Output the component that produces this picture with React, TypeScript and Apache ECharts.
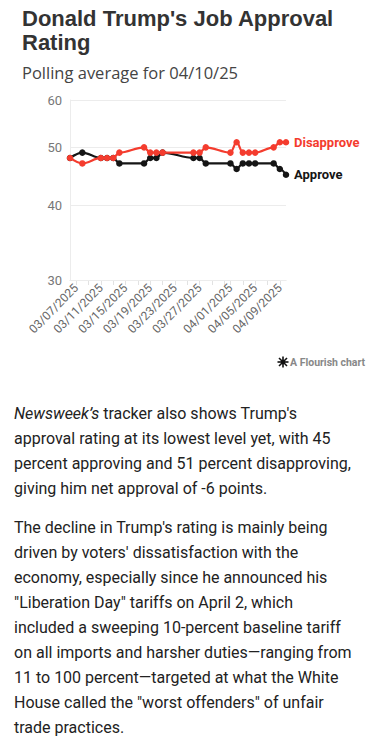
import React, { useEffect, useRef } from "react";
import * as echarts from "echarts";

const dates = ["03/06", "03/08", "03/11", "03/12", "03/13", "03/14", "03/18", "03/19", "03/20", "03/21", "03/26", "03/27", "03/28", "04/01", "04/02", "04/03", "04/04", "04/05", "04/08", "04/09", "04/10"];
const approve = [48, 49, 48, 48, 48, 47, 47, 48, 48, 49, 48, 48, 47, 47, 46, 47, 47, 47, 47, 46, 45];
const disapprove = [48, 47, 48, 48, 48, 49, 50, 49, 49, 49, 49, 49, 50, 49, 51, 49, 49, 49, 50, 51, 51];
const xTickDates = ["03/07", "03/09", "03/11", "03/13", "03/15", "03/17", "03/19", "03/21", "03/23", "03/25", "03/27", "03/29", "03/31", "04/01", "04/03", "04/05", "04/07", "04/09"];
const xLabelDates = ["03/07", "03/11", "03/15", "03/19", "03/23", "03/27", "04/01", "04/05", "04/09"];
const yTicks = [30, 40, 50, 60];
const xStart = "03/06";
const xEnd = "04/10";
const YEAR = 2025;
const titleLines = ["Donald Trump's Job Approval", "Rating"];
const subtitle = "Polling average for 04/10/25";

const toTs = (md: string) => {
  const [m, d] = md.split("/").map(Number);
  return Date.UTC(YEAR, m - 1, d);
};
const fmt = (v: number) => {
  const dt = new Date(v);
  const p = (n: number) => String(n).padStart(2, "0");
  return `${p(dt.getUTCMonth() + 1)}/${p(dt.getUTCDate())}/${dt.getUTCFullYear()}`;
};

const RED = "#f43c2e";
const BLACK = "#151515";
const FONT = "Roboto";

export default function App() {
  const ref = useRef<HTMLDivElement>(null);
  useEffect(() => {
    document.body.style.margin = "0";
    const chart = echarts.init(ref.current!, null, { renderer: "svg" });
    const option: any = {
      animation: false,
      title: [
        ...titleLines.map((t, i) => ({
          text: t,
          left: 22,
          top: 6 + i * 24.8,
          padding: 0,
          textStyle: { fontFamily: "Liberation Sans", fontSize: 22, fontWeight: 700, color: "#333", lineHeight: 24 },
        })),
        {
          text: subtitle,
          left: 22,
          top: 62,
          padding: 0,
          textStyle: { fontFamily: "Open Sans", fontSize: 16.5, fontWeight: 400, color: "#444", lineHeight: 20 },
        },
      ],
      grid: { left: 70, right: 93, top: 100, bottom: 105, containLabel: false, outerBoundsMode: "none" },
      xAxis: {
        type: "value",
        min: toTs(xStart),
        max: toTs(xEnd),
        axisLine: { show: true, onZero: false, lineStyle: { color: "#e2e2e2", width: 1 } },
        axisTick: { show: true, customValues: xTickDates.map(toTs), length: 5, lineStyle: { color: "#e2e2e2" } },
        axisLabel: {
          customValues: xLabelDates.map(toTs),
          rotate: 45,
          margin: 6,
          color: "#666",
          fontSize: 12,
          fontFamily: FONT,
          formatter: (v: number) => fmt(v),
        },
        splitLine: { show: false },
      },
      yAxis: {
        type: "log",
        logBase: 10,
        min: 30,
        max: 60,
        axisLine: { show: true, lineStyle: { color: "#ececec" } },
        axisTick: { show: false },
        axisLabel: { show: false },
        splitLine: { show: false },
      },
      series: [
        {
          type: "line",
          name: "grid",
          data: [],
          z: 1,
          silent: true,
          markLine: {
            z: 1,
            silent: true,
            symbol: "none",
            animation: false,
            lineStyle: { color: "#ececec", type: "solid", width: 1 },
            label: {
              position: "start",
              distance: 8,
              color: "#777",
              fontSize: 13,
              fontFamily: FONT,
              formatter: (p: any) => String(p.value),
            },
            data: yTicks.map((v) => ({ yAxis: v })),
          },
        },
        {
          type: "line",
          name: "Approve",
          z: 3,
          data: dates.map((d, i) => [toTs(d), approve[i]]),
          smooth: 0.35,
          smoothMonotone: "x",
          symbol: "circle",
          symbolSize: 6.5,
          itemStyle: { color: BLACK },
          lineStyle: { color: BLACK, width: 2.2 },
          endLabel: {
            show: true,
            formatter: "Approve",
            distance: 8,
            color: BLACK,
            fontWeight: "bold",
            fontSize: 13,
            fontFamily: FONT,
          },
        },
        {
          type: "line",
          name: "Disapprove",
          z: 4,
          data: dates.map((d, i) => [toTs(d), disapprove[i]]),
          smooth: 0.35,
          smoothMonotone: "x",
          symbol: "circle",
          symbolSize: 6.5,
          itemStyle: { color: RED },
          lineStyle: { color: RED, width: 2.2 },
          endLabel: {
            show: true,
            formatter: "Disapprove",
            distance: 8,
            color: RED,
            fontWeight: "bold",
            fontSize: 13,
            fontFamily: FONT,
          },
        },
      ],
      graphic: [
        {
          type: "group",
          x: 283,
          y: 362,
          children: [
            { type: "line", shape: { x1: 0, y1: -5.5, x2: 0, y2: 5.5 }, style: { stroke: "#111", lineWidth: 1.6 } },
            { type: "line", shape: { x1: -5.5, y1: 0, x2: 5.5, y2: 0 }, style: { stroke: "#111", lineWidth: 1.6 } },
            { type: "line", shape: { x1: -4, y1: -4, x2: 4, y2: 4 }, style: { stroke: "#111", lineWidth: 1.6 } },
            { type: "line", shape: { x1: -4, y1: 4, x2: 4, y2: -4 }, style: { stroke: "#111", lineWidth: 1.6 } },
            { type: "circle", shape: { cx: 0, cy: 0, r: 2.2 }, style: { fill: "#111" } },
          ],
        },
        {
          type: "text",
          x: 290,
          y: 362,
          style: {
            text: "A Flourish chart",
            fill: "#888",
            fontSize: 10.5,
            fontWeight: "bold",
            fontFamily: FONT,
            verticalAlign: "middle",
          },
        },
      ],
    };
    chart.setOption(option);
    return () => chart.dispose();
  }, []);

  const pStyle: React.CSSProperties = { margin: 0 };
  return (
    <div style={{ width: 379 }}>
      <div ref={ref} style={{ width: 379, height: 385 }} />
      <div style={{ fontFamily: "Roboto", fontSize: 16, lineHeight: "25px", color: "#222", paddingLeft: 14, whiteSpace: "nowrap" }}>
        <p style={{ ...pStyle, marginTop: 16 }}>
          <i>Newsweek’s</i> tracker also shows Trump's
          <br />
          approval rating at its lowest level yet, with 45
          <br />
          percent approving and 51 percent disapproving,
          <br />
          giving him net approval of -6 points.
        </p>
        <p style={{ ...pStyle, marginTop: 14 }}>
          The decline in Trump's rating is mainly being
          <br />
          driven by voters' dissatisfaction with the
          <br />
          economy, especially since he announced his
          <br />
          "Liberation Day" tariffs on April 2, which
          <br />
          included a sweeping 10-percent baseline tariff
          <br />
          on all imports and harsher duties—ranging from
          <br />
          11 to 100 percent—targeted at what the White
          <br />
          House called the "worst offenders" of unfair
          <br />
          trade practices.
        </p>
      </div>
    </div>
  );
}
